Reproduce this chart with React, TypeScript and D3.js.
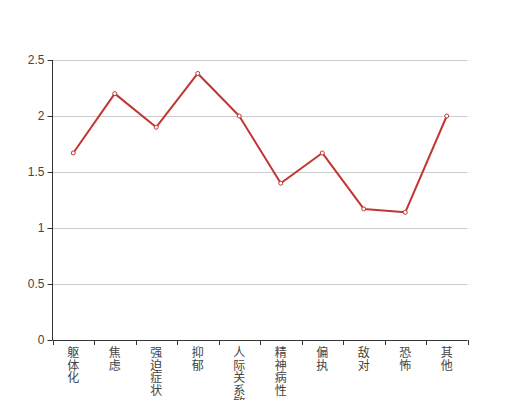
import React from "react";
import * as d3 from "d3";

const categories = ["躯体化", "焦虑", "强迫症状", "抑郁", "人际关系敏感", "精神病性", "偏执", "敌对", "恐怖", "其他"];
const values = [1.67, 2.2, 1.9, 2.38, 2.0, 1.4, 1.67, 1.17, 1.14, 2.0];
const yTicks = [0, 0.5, 1, 1.5, 2, 2.5];

const W = 520;
const H = 400;
const left = 52.5;
const right = 467.5;
const top = 60;
const bottom = 340;
const color = "#c23531";
const axisColor = "#333";
const labelColor = "#444";
const font = "'Liberation Sans', 'Noto Sans CJK SC', sans-serif";

export default function App() {
  const x = d3.scaleBand<string>().domain(categories).range([left, right]);
  const y = d3.scaleLinear().domain([0, 2.5]).range([bottom, top]);
  const line = d3
    .line<number>()
    .x((_, i) => (x(categories[i]) as number) + x.bandwidth() / 2)
    .y((d) => y(d));
  const boundaries = categories.map((c) => x(c) as number).concat([right]);

  return (
    <svg
      width={W}
      height={H}
      style={{ position: "fixed", left: 0, top: 0, background: "#fff" }}
      fontFamily={font}
    >
      {yTicks.map((t) => (
        <g key={t}>
          {t !== 0 && (
            <line x1={left} x2={right} y1={Math.round(y(t)) + 0.5} y2={Math.round(y(t)) + 0.5} stroke="#ccc" strokeWidth={1} />
          )}
          <line x1={left - 5} x2={left} y1={Math.round(y(t)) + 0.5} y2={Math.round(y(t)) + 0.5} stroke={axisColor} />
          <text x={left - 8} y={y(t)} dy="0.35em" textAnchor="end" fontSize={12} fill={labelColor}>
            {t}
          </text>
        </g>
      ))}
      <line x1={left} x2={left} y1={top} y2={bottom} stroke={axisColor} />
      <line x1={left} x2={right} y1={bottom + 0.5} y2={bottom + 0.5} stroke={axisColor} />
      {boundaries.map((b, i) => (
        <line key={i} x1={Math.round(b) + 0.5} x2={Math.round(b) + 0.5} y1={bottom} y2={bottom + 5} stroke={axisColor} />
      ))}
      {categories.map((c) => {
        const cx = (x(c) as number) + x.bandwidth() / 2;
        return (
          <text key={c} x={cx} y={357} textAnchor="middle" fontSize={12} fill={labelColor}>
            {Array.from(c).map((ch, i) => (
              <tspan key={i} x={cx} y={357 + i * 12.6}>
                {ch}
              </tspan>
            ))}
          </text>
        );
      })}
      <path d={line(values) as string} fill="none" stroke={color} strokeWidth={2} strokeLinejoin="round" />
      {values.map((v, i) => (
        <circle
          key={i}
          cx={(x(categories[i]) as number) + x.bandwidth() / 2}
          cy={y(v)}
          r={2}
          fill="#fff"
          stroke={color}
          strokeWidth={1}
        />
      ))}
    </svg>
  );
}
